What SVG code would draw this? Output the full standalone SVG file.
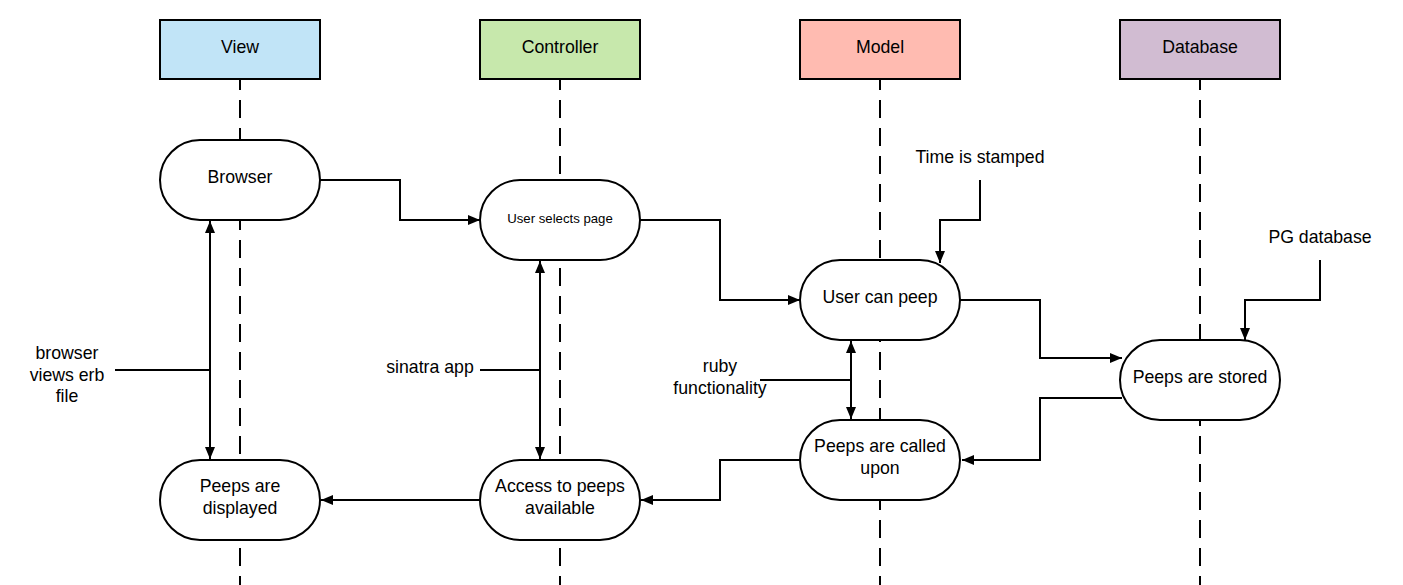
<svg xmlns="http://www.w3.org/2000/svg" width="1403" height="585" viewBox="0 0 1403 585">
<defs>
<marker id="arr" viewBox="0 0 12 10" refX="12" refY="5" markerWidth="12" markerHeight="10" markerUnits="userSpaceOnUse" orient="auto-start-reverse">
<path d="M0,0 L12,5 L0,10 Z" fill="#000"/>
</marker>
</defs>
<style>
text{font-family:"Liberation Sans",Arial,sans-serif;font-size:17.7px;fill:#000;text-anchor:middle;dominant-baseline:central}
.hdr{stroke:#000;stroke-width:2}
.life{stroke:#000;stroke-width:2;stroke-dasharray:18 10;stroke-dashoffset:8;fill:none}
.node{fill:#fff;stroke:#000;stroke-width:2}
.c{fill:none;stroke:#000;stroke-width:2}
.ca{fill:none;stroke:#000;stroke-width:2;marker-end:url(#arr)}
.cb{fill:none;stroke:#000;stroke-width:2;marker-end:url(#arr);marker-start:url(#arr)}
</style>
<rect width="1403" height="585" fill="#fff"/>
<g id="lifelines">
<line class="life" x1="240" y1="80" x2="240" y2="585"/>
<line class="life" x1="560" y1="80" x2="560" y2="585"/>
<line class="life" x1="880" y1="80" x2="880" y2="585"/>
<line class="life" x1="1200" y1="80" x2="1200" y2="585"/>
</g>
<g id="hdr-view"><rect class="hdr" x="160" y="20" width="160" height="59" fill="#c1e4f7"/><text x="240" y="47">View</text></g>
<g id="hdr-controller"><rect class="hdr" x="480" y="20" width="160" height="59" fill="#c7e8ac"/><text x="560" y="47">Controller</text></g>
<g id="hdr-model"><rect class="hdr" x="800" y="20" width="160" height="59" fill="#ffbbb1"/><text x="880" y="47">Model</text></g>
<g id="hdr-database"><rect class="hdr" x="1120" y="20" width="160" height="59" fill="#d1bcd2"/><text x="1200" y="47">Database</text></g>
<g id="connectors">
<polyline class="ca" points="320,180 400,180 400,220 480,220"/>
<polyline class="ca" points="640,220 720,220 720,300 800,300"/>
<polyline class="ca" points="960,300 1040,300 1040,358 1122,358"/>
<polyline class="ca" points="1122,398 1040,398 1040,460 962,460"/>
<polyline class="ca" points="800,460 720,460 720,500 641,500"/>
<polyline class="ca" points="480,500 321,500"/>
<polyline class="ca" points="980,180 980,220 940,220 940,263"/>
<polyline class="ca" points="1320,260 1320,300 1245,300 1245,340"/>
<line class="cb" x1="210" y1="221" x2="210" y2="459"/>
<line class="c" x1="115" y1="370" x2="210" y2="370"/>
<line class="cb" x1="540" y1="261" x2="540" y2="459"/>
<line class="c" x1="480" y1="370" x2="540" y2="370"/>
<line class="cb" x1="851" y1="341" x2="851" y2="419"/>
<line class="c" x1="760" y1="380" x2="851" y2="380"/>
</g>
<g id="n-browser"><rect class="node" x="160" y="140" width="160" height="80" rx="40"/><text x="240" y="177">Browser</text></g>
<g id="n-selects"><rect class="node" x="480" y="180" width="160" height="80" rx="40"/><text x="560" y="218" style="font-size:13.2px">User selects page</text></g>
<g id="n-peep"><rect class="node" x="800" y="260" width="160" height="80" rx="40"/><text x="880" y="297">User can peep</text></g>
<g id="n-stored"><rect class="node" x="1120" y="340" width="160" height="80" rx="40"/><text x="1200" y="377">Peeps are stored</text></g>
<g id="n-called"><rect class="node" x="800" y="420" width="160" height="80" rx="40"/><text x="880" y="446">Peeps are called</text><text x="880" y="468">upon</text></g>
<g id="n-access"><rect class="node" x="480" y="460" width="160" height="80" rx="40"/><text x="560" y="486">Access to peeps</text><text x="560" y="508">available</text></g>
<g id="n-displayed"><rect class="node" x="160" y="460" width="160" height="80" rx="40"/><text x="240" y="486">Peeps are</text><text x="240" y="508">displayed</text></g>
<g id="labels">
<text x="980" y="157">Time is stamped</text>
<text x="1320" y="237">PG database</text>
<text x="67" y="353">browser</text>
<text x="67" y="375">views erb</text>
<text x="67" y="396">file</text>
<text x="430" y="367">sinatra app</text>
<text x="720" y="366">ruby</text>
<text x="720" y="388">functionality</text>
</g>
</svg>
